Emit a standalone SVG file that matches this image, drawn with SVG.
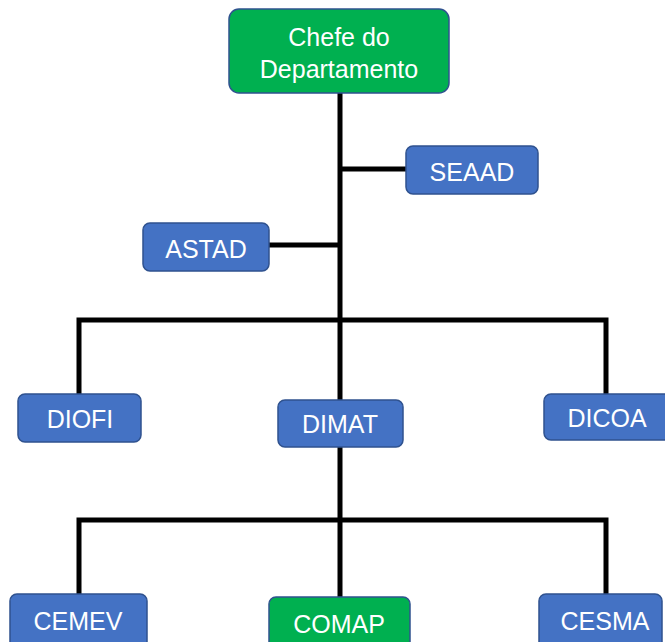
<svg xmlns="http://www.w3.org/2000/svg" width="665" height="642" viewBox="0 0 665 642">
  <style>
    .box-blue { fill: #4472C4; stroke: #2F528F; stroke-width: 1.5; }
    .box-green { fill: #00B050; stroke: #2F528F; stroke-width: 1.5; }
    .label { font-family: "Liberation Sans", Arial, sans-serif; font-size: 25px; fill: #FFFFFF; text-anchor: middle; }
    .link { fill: none; stroke: #000000; stroke-width: 5; stroke-linecap: butt; stroke-linejoin: miter; }
  </style>
  <rect width="665" height="642" fill="#FFFFFF"/>

  <!-- connectors -->
  <g id="connectors">
    <path class="link" d="M340 93 V400"/>
    <path class="link" d="M340 169 H406"/>
    <path class="link" d="M269 245 H340"/>
    <path class="link" d="M79 394 V320 H606 V394"/>
    <path class="link" d="M340 447 V597"/>
    <path class="link" d="M79 594 V520 H606 V594"/>
  </g>

  <g id="chefe">
    <rect class="box-green" x="229" y="9" width="220" height="84" rx="10"/>
    <text class="label" x="339" y="46">Chefe do</text>
    <text class="label" x="339" y="78">Departamento</text>
  </g>

  <g id="seaad">
    <rect class="box-blue" x="406" y="146" width="132" height="48" rx="7"/>
    <text class="label" x="472" y="181">SEAAD</text>
  </g>

  <g id="astad">
    <rect class="box-blue" x="143" y="223" width="126" height="48" rx="7"/>
    <text class="label" x="206" y="258">ASTAD</text>
  </g>

  <g id="diofi">
    <rect class="box-blue" x="18" y="394" width="123" height="48" rx="7"/>
    <text class="label" x="80" y="428">DIOFI</text>
  </g>

  <g id="dimat">
    <rect class="box-blue" x="278" y="400" width="125" height="47" rx="7"/>
    <text class="label" x="340" y="433">DIMAT</text>
  </g>

  <g id="dicoa">
    <rect class="box-blue" x="544" y="394" width="128" height="46" rx="7"/>
    <text class="label" x="607" y="427">DICOA</text>
  </g>

  <g id="cemev">
    <rect class="box-blue" x="10" y="594" width="137" height="56" rx="7"/>
    <text class="label" x="78" y="630">CEMEV</text>
  </g>

  <g id="comap">
    <rect class="box-green" x="269" y="597" width="141" height="56" rx="7"/>
    <text class="label" x="339" y="633">COMAP</text>
  </g>

  <g id="cesma">
    <rect class="box-blue" x="539" y="594" width="123" height="56" rx="7"/>
    <text class="label" x="605" y="630">CESMA</text>
  </g>
</svg>
